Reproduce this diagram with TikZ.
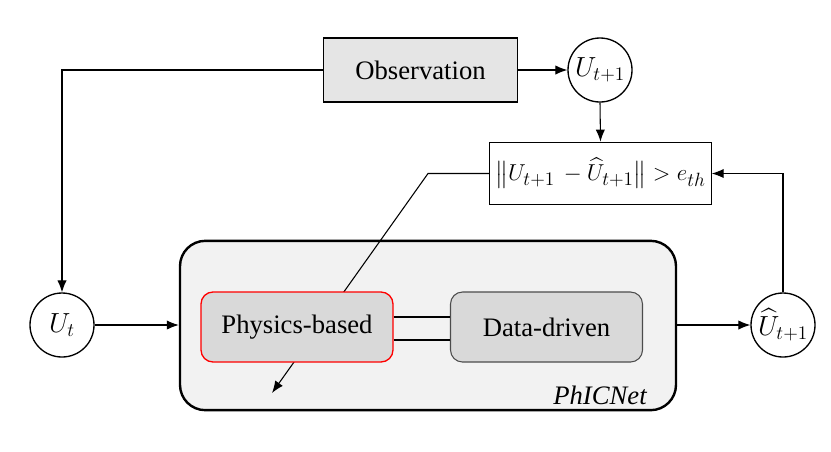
\documentclass[tikz,border=0pt]{standalone}
\usepackage{amsmath}
\usepackage{fontspec}
\setmainfont{Liberation Serif}
\usetikzlibrary{arrows.meta}
\DeclareMathSizes{20}{20}{15.5}{11}
\DeclareMathSizes{18}{18}{14}{10}

\tikzset{
  conn/.style={line width=0.8pt, -{Latex[length=9pt,width=7pt]}},
  state/.style={circle, draw, line width=1pt, minimum size=48pt, inner sep=0pt, font=\fontsize{20}{24}\selectfont},
  plainbox/.style={rectangle, draw, line width=0.8pt, font=\fontsize{20}{24}\selectfont}
}

\begin{document}
\begin{tikzpicture}[x=0.75pt, y=-0.75pt]
    \useasboundingbox (0,0) rectangle (831,451);
    % outer model box
    \node [draw, line width=1.8pt, rounded corners=19pt, fill=gray!10, minimum width=372pt, minimum height=127pt] (phic) at (428,325.5) {};
    \node [font=\fontsize{20}{24}\selectfont\itshape] (name) at (600,395) {PhICNet};

    \node [plainbox, fill=gray!20, minimum width=146pt, minimum height=48pt] (obs) at (420.5,70) {Observation};
    \node [state] (unext) at (600,70) {$U_{t+1}$};
    \node [state] (ut) at (62,325) {$U_t$};
    \node [state] (uhat) at (783,325) {$\widehat{U}_{t+1}$};
    \node [plainbox, minimum width=166pt, minimum height=47pt, font=\fontsize{18}{22}\selectfont] (err) at (600.5,173.5) {$\big\|U_{t+1}\, - \widehat{U}_{t+1}\big\| > e_{th}$};

    \coordinate (bend) at (428,173.5);
    \coordinate (tip) at (272,393);
    % feedback line passes behind the physics block
    \draw [conn] (err.west) -- (bend) -- (tip);

    \node [draw=red, line width=1pt, rounded corners=9pt, fill=gray!30, minimum width=144pt, minimum height=52.5pt, font=\fontsize{20}{24}\selectfont] (phys) at (297,327) {Physics-based};
    \node [draw=gray!60!black, line width=0.8pt, rounded corners=9pt, fill=gray!30, minimum width=144pt, minimum height=52.5pt, font=\fontsize{20}{24}\selectfont] (data) at (546.5,327) {Data-driven};
    \draw [line width=1.6pt] ([yshift=7.5pt]phys.east) -- ([yshift=7.5pt]data.west);
    \draw [line width=1.6pt] ([yshift=-9.75pt]phys.east) -- ([yshift=-9.75pt]data.west);

    \draw [conn] (obs.east) -- (unext.west);
    \draw [conn] (obs.west) -| (ut.north);
    \draw [conn] (ut.east) -- (phic.west |- ut.east);
    \draw [conn] (unext.south) -- (err.north);
    \draw [conn] (phic.east |- uhat.west) -- (uhat.west);
    \draw [conn] (uhat.north) |- (err.east);
\end{tikzpicture}
\end{document}
